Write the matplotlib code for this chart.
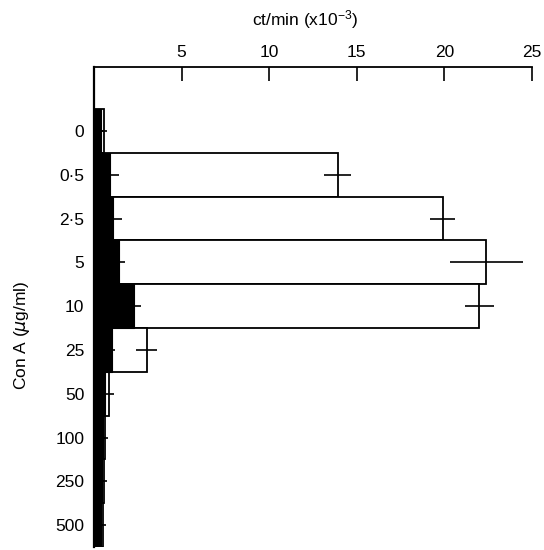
import matplotlib.pyplot as plt
import numpy as np

plt.rcParams['font.family'] = ['Liberation Sans', 'DejaVu Sans']
plt.rcParams['mathtext.default'] = 'regular'

conc = ['0', '0·5', '2·5', '5', '10', '25', '50', '100', '250', '500']

# Con A stimulated (open bars)
stim = [0.55, 13.9, 19.9, 22.4, 22.0, 3.0, 0.85, 0.6, 0.55, 0.5]
stim_err = [0.2, 0.75, 0.7, 2.1, 0.85, 0.6, 0.3, 0.2, 0.2, 0.2]

# background (filled bars)
ctrl = [0.4, 0.9, 1.1, 1.4, 2.3, 1.0, 0.6, 0.5, 0.45, 0.4]
ctrl_err = [0.1, 0.55, 0.5, 0.35, 0.4, 0.2, 0.1, 0.1, 0.1, 0.1]

xticks = [5, 10, 15, 20, 25]

fig = plt.figure(figsize=(5.44, 5.5), dpi=100)
ax = fig.add_axes([94/544, 1 - 547/550, (532 - 94)/544, (547 - 67)/550])

y = np.arange(len(conc))

ax.barh(y, stim, height=1.0, color='white', edgecolor='black', linewidth=1.3, zorder=2)
ax.errorbar(stim, y, xerr=stim_err, fmt='none', ecolor='black', elinewidth=1.2, capsize=0, zorder=3)
ax.barh(y, ctrl, height=1.0, color='black', edgecolor='black', linewidth=0.8, zorder=4)
ax.errorbar(ctrl, y, xerr=ctrl_err, fmt='none', ecolor='black', elinewidth=1.2, capsize=0, zorder=5)

ax.set_xlim(0, 25)
ax.set_ylim(9.5, -1.46)

ax.xaxis.tick_top()
ax.set_xticks(xticks)
ax.set_xticklabels([str(t) for t in xticks])
ax.set_yticks(y)
ax.set_yticklabels(conc)

ax.tick_params(axis='x', direction='in', length=10, width=1.2, pad=5, labelsize=12.5)
ax.tick_params(axis='y', length=0, pad=7, labelsize=12.5)

ax.spines['right'].set_visible(False)
ax.spines['bottom'].set_visible(False)
ax.spines['top'].set_linewidth(1.3)
ax.spines['left'].set_linewidth(1.6)

fig.text(305/544, 1 - 20/550, r'ct/min (x10$^{-3}$)', ha='center', va='center', fontsize=12.5)
fig.text(22/544, 1 - 335/550, r'Con A ($\mathit{\mu}$g/ml)', rotation=90, ha='center', va='center', fontsize=12.5)

fig.savefig('out.png', dpi=100)
